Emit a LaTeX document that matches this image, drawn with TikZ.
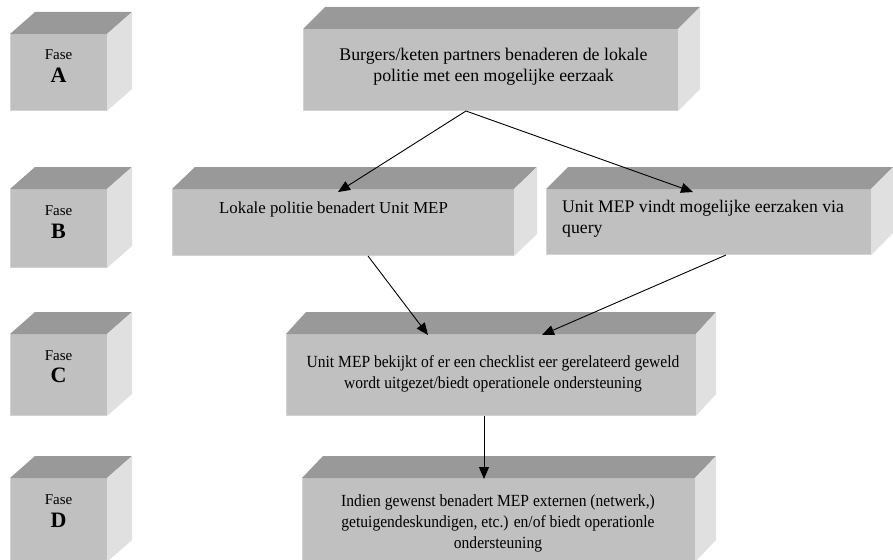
\documentclass[tikz,border=0pt]{standalone}
\usepackage{fontspec}
\setmainfont{Liberation Serif}
\newfontfamily\narrowserif[FakeStretch=0.915]{Liberation Serif}
\usetikzlibrary{arrows.meta,calc,fit}
\definecolor{topc}{HTML}{999999}
\definecolor{frontc}{HTML}{C0C0C0}
\definecolor{sidec}{HTML}{E0E0E0}
\definecolor{edgec}{HTML}{D2D2D2}
\tikzset{
  frontbox/.style={rectangle, inner sep=0pt, outer sep=0pt, fill=frontc, draw=none},
  txt/.style={inner sep=0pt, font=\fontsize{#1}{21}\selectfont},
  txt/.default=16.5,
  ntxt/.style={inner sep=0pt, font=\narrowserif\fontsize{17}{21}\selectfont},
  fasel/.style={inner sep=0pt, font=\fontsize{15}{16}\selectfont},
  fasebig/.style={inner sep=0pt, font=\fontsize{22}{24}\selectfont\bfseries},
  conn/.style={draw=black, line width=0.9pt, -{Triangle[length=12pt,width=10pt]}},
}
\newcommand\mycube[6]{%
  \node[frontbox, fit={(#2,#3) (#4,#5)}] (#1) {};
  \fill[topc] (#1.north west) -- ++(#6,-22) -- ($(#1.north east)+(#6,-22)$) -- (#1.north east) -- cycle;
  \fill[sidec] (#1.north east) -- ++(#6,-22) -- ($(#1.south east)+(#6,-22)$) -- (#1.south east) -- cycle;
  \draw[edgec, line width=1pt] ([xshift=0.5pt]#1.north west) -- ([xshift=0.5pt,yshift=0.5pt]#1.south west) -- ([yshift=0.5pt]#1.south east);
}
\begin{document}
\begin{tikzpicture}[x=1pt,y=-1pt]
\useasboundingbox (0,0) rectangle (893,559);
% phase cubes
\mycube{fa}{10}{34}{107}{111}{25}
\mycube{fb}{10}{189}{107}{268}{25}
\mycube{fc}{10}{334}{107}{416}{25}
\mycube{fd}{10}{478}{107}{562}{25}
% main cubes
\mycube{a}{303}{29}{678}{111}{22}
\mycube{b1}{172}{189}{514}{256}{23}
\mycube{b2}{546}{189}{871}{255}{22}
\mycube{c}{286}{334}{696}{416}{20}
\mycube{d}{302}{478}{695}{562}{21}
% phase labels
\node[fasel, anchor=base] (fa1) at (58.5,60) {Fase};
\node[fasebig, anchor=base] (fa2) at (58.5,83) {A};
\node[fasel, anchor=base] (fb1) at (58.5,215) {Fase};
\node[fasebig, anchor=base] (fb2) at (58.5,238) {B};
\node[fasel, anchor=base] (fc1) at (58.5,360) {Fase};
\node[fasebig, anchor=base] (fc2) at (58.5,382) {C};
\node[fasel, anchor=base] (fd1) at (58.5,504) {Fase};
\node[fasebig, anchor=base] (fd2) at (58.5,527) {D};
% texts (base anchor = baseline of the last line)
\node[txt=17.8, anchor=base, align=center] (ta) at (493.5,82) {Burgers/keten partners benaderen de lokale\\politie met een mogelijke eerzaak};
\node[txt=16.8, anchor=base west] (tb1) at (219,213) {Lokale politie benadert Unit MEP};
\node[txt=17.7, anchor=base west, align=left] (tb2) at (562,233) {Unit MEP vindt mogelijke eerzaken via\\query};
\node[ntxt, anchor=base, align=center] (tc) at (493,388) {Unit MEP bekijkt of er een checklist eer gerelateerd geweld\\wordt uitgezet/biedt operationele ondersteuning};
\node[ntxt, anchor=base, align=center] (td) at (498,548) {Indien gewenst benadert MEP externen (netwerk,)\\getuigendeskundigen, etc.) en/of biedt operationle\\ondersteuning};
% connectors
\coordinate (apex) at ([xshift=163pt]a.south west);
\draw[conn] (apex) -- ([xshift=166pt,yshift=-3pt]b1.north west);
\draw[conn] (apex) -- ([xshift=147pt,yshift=-3pt]b2.north west);
\draw[conn] ([xshift=196pt]b1.south west) -- ([xshift=142pt,yshift=-1pt]c.north west);
\draw[conn] ([xshift=180pt]b2.south west) -- ([xshift=256pt,yshift=-1pt]c.north west);
\draw[conn] ([xshift=198pt]c.south west) -- ([xshift=182pt,yshift=-1pt]d.north west);
\end{tikzpicture}
\end{document}
